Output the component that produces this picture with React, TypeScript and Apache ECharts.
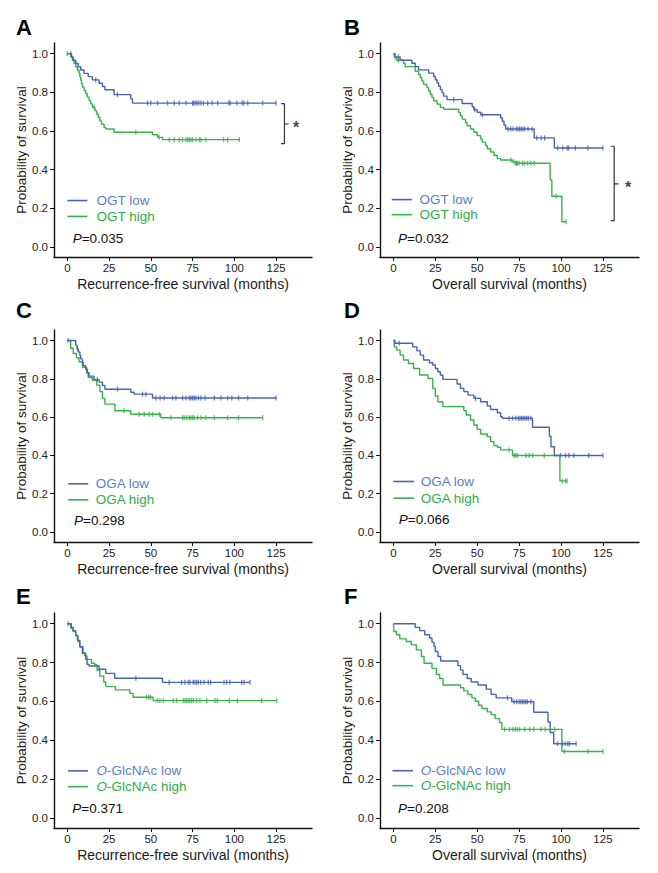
import React, { useEffect, useRef } from 'react';
import * as echarts from 'echarts';

type Pt = [number, number];

// ---------- axis / text data ----------
const xTicks = [0, 25, 50, 75, 100, 125];
const yTicks = [0, 0.2, 0.4, 0.6, 0.8, 1.0];
const panelLetters = ['A', 'B', 'C', 'D', 'E', 'F'];
const xTitles = [
  'Recurrence-free survival (months)',
  'Overall survival (months)',
  'Recurrence-free survival (months)',
  'Overall survival (months)',
  'Recurrence-free survival (months)',
  'Overall survival (months)',
];
const yTitle = 'Probability of survival';
const markerNames = ['OGT', 'OGT', 'OGA', 'OGA', 'O-GlcNAc', 'O-GlcNAc'];
const pValues = ['0.035', '0.032', '0.298', '0.066', '0.371', '0.208'];

// ---------- Kaplan-Meier steps [months, survival] and censor times ----------
const aLow: Pt[] = [[0, 1], [2.5, 0.983], [3.5, 0.966], [5, 0.949], [6.5, 0.932], [8, 0.915], [10, 0.898], [12.5, 0.881], [15, 0.864], [19, 0.847], [21, 0.83], [22.5, 0.813], [28, 0.788], [38, 0.766], [39, 0.744]];
const aLowCens = [2, 17, 30, 48, 50, 54, 60, 64, 67, 71, 75, 75.6, 76.6, 77.6, 78.7, 80, 81.5, 84, 86.7, 90, 96.7, 97.5, 101.5, 104.7, 105.7, 108, 117, 125];
const aHigh: Pt[] = [[0, 1], [2, 0.983], [3, 0.966], [4, 0.949], [5, 0.932], [6, 0.915], [7, 0.898], [7.5, 0.88], [8, 0.862], [8.5, 0.845], [9, 0.827], [10, 0.81], [11, 0.792], [12, 0.775], [13, 0.757], [14, 0.74], [15, 0.722], [16.5, 0.705], [17.5, 0.687], [18.5, 0.67], [19.5, 0.652], [20.5, 0.635], [22, 0.617], [23, 0.61], [28, 0.593], [51, 0.58], [54, 0.567], [57, 0.555]];
const aHighCens = [0, 16, 41, 55, 61, 64, 67, 69, 71, 72, 73, 74, 75, 77, 79, 80, 83, 93.5, 96, 103];

const bLow: Pt[] = [[0, 1], [1, 0.983], [4, 0.966], [11, 0.95], [13, 0.933], [15, 0.916], [21, 0.899], [24, 0.882], [25, 0.865], [26, 0.848], [27, 0.831], [28, 0.814], [29, 0.797], [30, 0.78], [32, 0.762], [41, 0.742], [47, 0.725], [48, 0.71], [50, 0.697], [52, 0.684], [64, 0.667], [65, 0.65], [66, 0.63], [67, 0.61], [84, 0.564], [96, 0.512]];
const bLowCens = [3, 36, 48.5, 53, 68.4, 70, 71.4, 73.3, 74.3, 75.3, 76.3, 77.3, 78.3, 80.3, 82.7, 85.5, 88.2, 90.2, 98, 101, 103.7, 104.5, 108.5, 116, 125];
const bHigh: Pt[] = [[0, 1], [0.5, 0.983], [2, 0.966], [6, 0.95], [7, 0.933], [13, 0.909], [15, 0.892], [16, 0.875], [17, 0.858], [18, 0.841], [20, 0.824], [21, 0.807], [22, 0.79], [23, 0.773], [24, 0.756], [26, 0.739], [28, 0.722], [30, 0.712], [39, 0.695], [40, 0.678], [41, 0.661], [43, 0.644], [44, 0.627], [46, 0.61], [48, 0.593], [50, 0.576], [52, 0.559], [53, 0.542], [55, 0.525], [56, 0.508], [58, 0.491], [60, 0.474], [62, 0.457], [64, 0.45], [71, 0.44], [73, 0.433], [93.5, 0.347], [94.5, 0.262], [100.5, 0.13]];
const bHighCens = [1, 3, 70, 72, 73, 73.5, 74, 75, 77, 78, 80, 82, 84, 97, 103];

const cLow: Pt[] = [[0, 1], [5, 0.976], [5.8, 0.958], [6.5, 0.94], [7.5, 0.922], [8, 0.904], [9, 0.886], [9.5, 0.868], [11, 0.85], [12, 0.832], [13, 0.814], [16, 0.796], [19, 0.783], [21, 0.765], [22.5, 0.746], [38, 0.73], [40, 0.72], [51, 0.7]];
const cLowCens = [6, 18, 30, 45, 47, 53, 55.5, 58, 63, 65, 69, 71, 73, 74, 75, 76, 77, 78.5, 80, 82.5, 88, 92, 96, 98.5, 102.5, 108, 125];
const cHigh: Pt[] = [[0, 1], [2, 0.96], [3.5, 0.932], [5.5, 0.91], [7, 0.889], [9, 0.86], [11.5, 0.83], [12.5, 0.807], [15, 0.793], [17.6, 0.767], [19.5, 0.733], [21, 0.698], [22.5, 0.668], [28.5, 0.633], [38, 0.615], [56, 0.597]];
const cHighCens = [0.5, 34, 43, 46, 49, 51, 55, 62, 69, 70, 71.5, 73, 74, 75, 76, 78, 80, 83, 88, 96, 102.5, 117];

const dLow: Pt[] = [[0, 1], [1, 0.986], [11.5, 0.967], [14, 0.946], [16, 0.924], [18, 0.898], [21.5, 0.884], [23.5, 0.872], [25, 0.854], [26.5, 0.837], [28, 0.82], [29.5, 0.797], [38, 0.773], [40, 0.75], [42, 0.733], [44.5, 0.715], [48, 0.698], [52, 0.68], [56, 0.658], [58, 0.64], [62, 0.623], [64, 0.602], [65, 0.594], [83, 0.547], [93, 0.5], [94, 0.445], [96, 0.4]];
const dLowCens = [3.5, 49, 69, 71, 73, 74.5, 75.5, 76.5, 77.5, 78.5, 79.5, 80.5, 82, 99.7, 102.7, 104.7, 107.6, 116.5, 125];
const dHigh: Pt[] = [[0, 1], [0.5, 0.967], [2, 0.95], [4, 0.924], [6, 0.898], [9, 0.88], [12, 0.854], [15.6, 0.82], [20.6, 0.802], [23.5, 0.75], [25, 0.71], [26.5, 0.68], [29.5, 0.655], [42, 0.634], [43.5, 0.611], [46, 0.585], [48, 0.559], [50, 0.536], [52, 0.512], [56, 0.498], [58, 0.472], [60, 0.451], [62, 0.443], [64, 0.429], [71, 0.4], [99.3, 0.267]];
const dHighCens = [69, 72, 73, 74, 79, 81, 83, 90, 100.7, 102.7, 103.6];

const eLow: Pt[] = [[0, 1], [2.4, 0.981], [3.5, 0.964], [5, 0.94], [6, 0.914], [7.5, 0.88], [9, 0.847], [11, 0.816], [11.8, 0.79], [13, 0.782], [19, 0.765], [23, 0.744], [28.4, 0.719], [57, 0.698]];
const eLowCens = [41, 61, 68.4, 70.4, 72.4, 73.4, 75.4, 76.4, 77.4, 78.4, 79.8, 81.8, 84.4, 85.8, 93.8, 95.4, 97.4, 104.4, 105.8, 109.4];
const eHigh: Pt[] = [[0, 1], [2, 0.976], [3.4, 0.959], [5, 0.937], [6.4, 0.907], [7.4, 0.882], [9.4, 0.851], [10.4, 0.834], [11.8, 0.816], [14.4, 0.796], [16.4, 0.787], [17.8, 0.76], [19.4, 0.73], [21.8, 0.7], [23, 0.676], [28.8, 0.659], [37.4, 0.641], [39.4, 0.621], [51.4, 0.604]];
const eHighCens = [0.5, 47.4, 48.8, 49.8, 53.8, 55.4, 57.4, 63.4, 65.4, 69.4, 70.4, 71.4, 72.4, 73.4, 74.4, 75.4, 77.4, 79.4, 83.4, 88.4, 89.8, 97, 101.8, 116.4, 125.4];

const fLow: Pt[] = [[0, 1], [13, 0.981], [15.7, 0.964], [18.7, 0.943], [21.6, 0.926], [23, 0.905], [24.2, 0.883], [25, 0.857], [26.6, 0.831], [28.2, 0.808], [38.5, 0.784], [40, 0.762], [41.5, 0.739], [44, 0.718], [46.4, 0.7], [50.4, 0.684], [55.4, 0.663], [58.3, 0.636], [61.3, 0.618], [70.6, 0.598], [83.7, 0.544], [92.2, 0.494], [93.5, 0.44], [95.6, 0.382]];
const fLowCens = [68, 72, 73.6, 75, 76, 77, 78, 79, 80, 82, 97.9, 100.8, 102.4, 104, 105, 109];
const fHigh: Pt[] = [[0, 1], [0.3, 0.96], [1.8, 0.943], [3.8, 0.922], [7.7, 0.908], [10.7, 0.891], [13.7, 0.865], [16.7, 0.831], [18.3, 0.796], [23, 0.77], [25.6, 0.739], [27.6, 0.718], [29.6, 0.684], [40, 0.67], [42, 0.654], [44.4, 0.635], [46.8, 0.618], [48.8, 0.601], [50.8, 0.58], [52.8, 0.563], [56, 0.546], [58.3, 0.532], [60.7, 0.511], [63.3, 0.49], [64.7, 0.456], [100.5, 0.342]];
const fHighCens = [66.3, 69.3, 71.3, 72.7, 73.9, 75.3, 78.3, 81.3, 83.7, 88.1, 90.5, 96.1, 102, 116, 125];

// significance brackets (panels A and B), in data units
const bracketA: Pt[] = [[128, 0.741], [130, 0.741], [130, 0.534], [128, 0.534]];
const bracketATick: Pt[] = [[130, 0.636], [132.5, 0.636]];
const starA: Pt = [137, 0.636];
const bracketB: Pt[] = [[129.6, 0.521], [131.7, 0.521], [131.7, 0.136], [129.6, 0.136]];
const bracketBTick: Pt[] = [[131.7, 0.326], [134.3, 0.326]];
const starB: Pt = [140, 0.326];

const lowSteps = [aLow, bLow, cLow, dLow, eLow, fLow];
const lowCens = [aLowCens, bLowCens, cLowCens, dLowCens, eLowCens, fLowCens];
const highSteps = [aHigh, bHigh, cHigh, dHigh, eHigh, fHigh];
const highCens = [aHighCens, bHighCens, cHighCens, dHighCens, eHighCens, fHighCens];

// ---------- styling / layout ----------
const BLUE = '#4A63AE';
const GREEN = '#35B34A';
const BLUE_TXT = '#5B7FC6';
const GREEN_TXT = '#2EAE48';
const FONT = '"Liberation Sans", Arial, Helvetica, sans-serif';
const colLeft = [54, 380];
const colWidth = [258, 259];
const rowTop = [43, 330, 613];
const rowHeight = [214, 212, 215];
const letterPos: Pt[] = [[16, 27], [344, 27], [16, 310], [344, 310], [16, 596], [344, 596]];
// legend placement in data units: [line start t, line end t, text t, row1 S, row2 S, P t, P S]
const legendLayout = [
  [0, 12, 17.5, 0.24, 0.158, 3.2, 0.042],
  [-1, 11, 15.5, 0.245, 0.167, 2.8, 0.042],
  [0.5, 12.5, 17, 0.252, 0.168, 4, 0.06],
  [0, 12.3, 16.3, 0.264, 0.177, 3.2, 0.064],
  [0.4, 12.4, 17.4, 0.242, 0.161, 3, 0.05],
  [-0.6, 11.7, 16.3, 0.243, 0.166, 2.8, 0.049],
];

function levelAt(steps: Pt[], t: number): number {
  let s = steps[0][1];
  for (const [x, y] of steps) {
    if (x <= t) s = y;
  }
  return s;
}

function curveData(steps: Pt[], cens: number[]): Pt[] {
  const out = steps.slice();
  const lastT = Math.max(...cens);
  const last = steps[steps.length - 1];
  if (lastT > last[0]) out.push([lastT, last[1]]);
  return out;
}

export default function App() {
  const ref = useRef<HTMLDivElement>(null);
  useEffect(() => {
    if (!ref.current) return;
    const chart = echarts.init(ref.current, null, { renderer: 'svg' });
    const grids: any[] = [];
    const xAxes: any[] = [];
    const yAxes: any[] = [];
    const series: any[] = [];
    for (let i = 0; i < 6; i++) {
      const col = i % 2;
      const row = Math.floor(i / 2);
      grids.push({ left: colLeft[col], top: rowTop[row], width: colWidth[col], height: rowHeight[row], containLabel: false });
      xAxes.push({
        type: 'value', gridIndex: i, min: -8, max: 146.5,
        name: xTitles[i], nameLocation: 'middle', nameGap: 20,
        nameTextStyle: { fontSize: 14, color: '#1a1a1a', fontFamily: FONT },
        axisLine: { show: true, onZero: false, lineStyle: { color: '#111', width: 1.4 } },
        axisTick: { show: true, length: 4, customValues: xTicks, lineStyle: { color: '#111', width: 1 } },
        axisLabel: { customValues: xTicks, fontSize: 11.5, color: '#222', margin: 5, fontFamily: FONT },
        splitLine: { show: false },
      });
      yAxes.push({
        type: 'value', gridIndex: i, min: -0.052, max: 1.055,
        name: yTitle, nameLocation: 'middle', nameGap: 23,
        nameTextStyle: { fontSize: 13.5, color: '#1a1a1a', fontFamily: FONT },
        axisLine: { show: true, onZero: false, lineStyle: { color: '#111', width: 1.4 } },
        axisTick: { show: true, length: 4, customValues: yTicks, lineStyle: { color: '#111', width: 1 } },
        axisLabel: { customValues: yTicks, fontSize: 11.5, color: '#222', margin: 6, fontFamily: FONT, formatter: (v: number) => v.toFixed(1) },
        splitLine: { show: false },
      });
      const groups = [
        { steps: lowSteps[i], cens: lowCens[i], color: BLUE, name: `${panelLetters[i]} ${markerNames[i]} low` },
        { steps: highSteps[i], cens: highCens[i], color: GREEN, name: `${panelLetters[i]} ${markerNames[i]} high` },
      ];
      for (const g of groups.slice().reverse()) {
        series.push({
          type: 'line', name: g.name, xAxisIndex: i, yAxisIndex: i, step: 'end',
          data: curveData(g.steps, g.cens), showSymbol: false, symbol: 'none', silent: true,
          lineStyle: { color: g.color, width: 1.4 }, itemStyle: { color: g.color },
        });
        series.push({
          type: 'scatter', name: g.name + ' censored', xAxisIndex: i, yAxisIndex: i, silent: true,
          data: g.cens.map((t) => [t, levelAt(g.steps, t)]), symbol: 'rect', symbolSize: [1.3, 5],
          itemStyle: { color: g.color },
        });
      }
    }
    const bracketSets: [number, Pt[], Pt[], Pt][] = [[0, bracketA, bracketATick, starA], [1, bracketB, bracketBTick, starB]];
    for (const [gi, br, tk, st] of bracketSets) {
      series.push({ type: 'line', xAxisIndex: gi, yAxisIndex: gi, data: br, showSymbol: false, symbol: 'none', silent: true, lineStyle: { color: '#333', width: 1.2 } });
      series.push({ type: 'line', xAxisIndex: gi, yAxisIndex: gi, data: tk, showSymbol: false, symbol: 'none', silent: true, lineStyle: { color: '#333', width: 1.2 } });
      series.push({
        type: 'scatter', xAxisIndex: gi, yAxisIndex: gi, data: [st], symbolSize: 0, silent: true,
        label: { show: true, position: 'inside', formatter: '*', fontSize: 16, fontWeight: 'bold', color: '#111', fontFamily: FONT, offset: [0, 4] },
      });
    }
    chart.setOption({
      animation: false,
      backgroundColor: '#ffffff',
      textStyle: { fontFamily: FONT },
      grid: grids, xAxis: xAxes, yAxis: yAxes, series,
    });

    const graphic: any[] = [];
    for (let i = 0; i < 6; i++) {
      graphic.push({
        type: 'text', x: letterPos[i][0], y: letterPos[i][1],
        style: { text: panelLetters[i], fontSize: 22, fontWeight: 'bold', fontFamily: FONT, fill: '#000', textVerticalAlign: 'middle' },
      });
      const [l0, l1, tx, s1, s2, pt, ps] = legendLayout[i];
      const p = (t: number, s: number) => chart.convertToPixel({ gridIndex: i }, [t, s]) as number[];
      const isO = markerNames[i] === 'O-GlcNAc';
      const rows: [number, string, string, string][] = [[s1, 'low', BLUE, BLUE_TXT], [s2, 'high', GREEN, GREEN_TXT]];
      for (const [s, lbl, lc, tc] of rows) {
        const a = p(l0, s);
        const b = p(l1, s);
        const c = p(tx, s);
        graphic.push({ type: 'line', shape: { x1: a[0], y1: a[1], x2: b[0], y2: a[1] }, style: { stroke: lc, lineWidth: 1.6 } });
        graphic.push({
          type: 'text', x: c[0], y: c[1],
          style: {
            text: isO ? `{i|O}-GlcNAc ${lbl}` : `${markerNames[i]} ${lbl}`,
            rich: { i: { fontStyle: 'italic', fontSize: 13.5, fill: tc, fontFamily: FONT } },
            fontSize: 13.5, fill: tc, fontFamily: FONT, textVerticalAlign: 'middle',
          },
        });
      }
      const pp = p(pt, ps);
      graphic.push({
        type: 'text', x: pp[0], y: pp[1],
        style: {
          text: `{i|P}=${pValues[i]}`,
          rich: { i: { fontStyle: 'italic', fontSize: 13.5, fill: '#111', fontFamily: FONT } },
          fontSize: 13.5, fill: '#111', fontFamily: FONT, textVerticalAlign: 'middle',
        },
      });
    }
    chart.setOption({ graphic });
    return () => chart.dispose();
  }, []);
  return <div ref={ref} style={{ position: 'fixed', left: 0, top: 0, width: 658, height: 873, background: '#fff' }} />;
}
